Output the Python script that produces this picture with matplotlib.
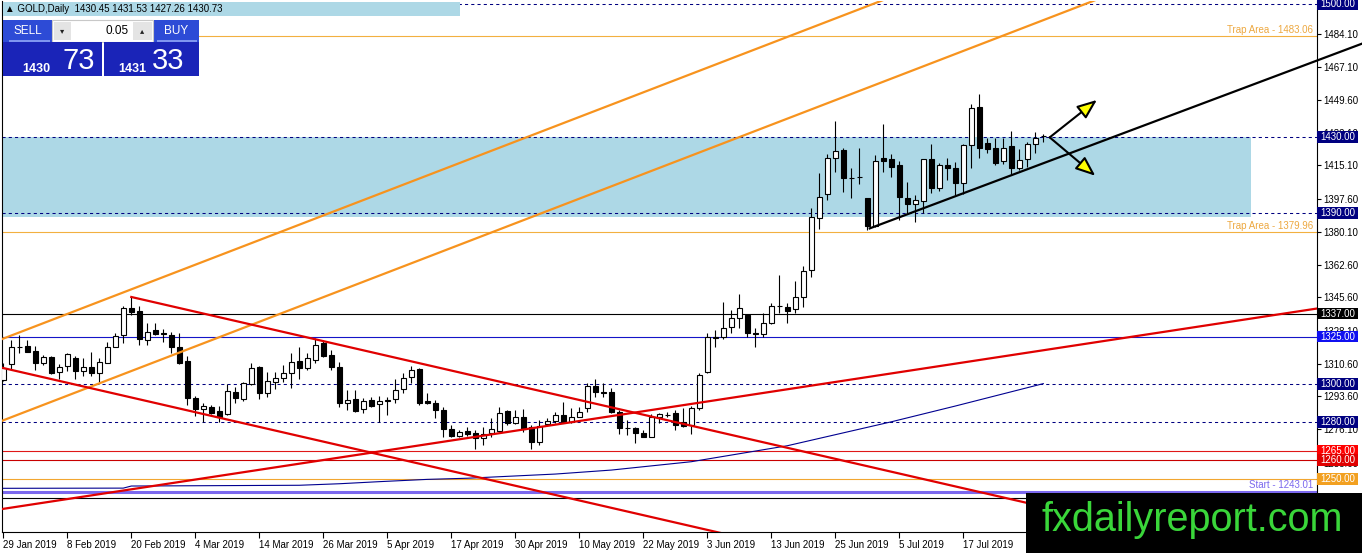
import matplotlib
matplotlib.use("Agg")
import matplotlib.pyplot as plt
import matplotlib.transforms as mtransforms
from matplotlib.patches import Rectangle
import numpy as np

# ---------------- data ----------------
opens = [1302.1, 1310.5, 1319.7, 1320.0, 1317.4, 1310.9, 1314.0, 1306.3, 1309.5, 1313.5,
         1307.0, 1309.1, 1305.6, 1311.2, 1319.7, 1325.8, 1339.8, 1338.4, 1323.2, 1328.4,
         1326.7, 1325.8, 1319.3, 1312.3, 1292.8, 1286.9, 1287.7, 1286.0, 1284.0, 1296.0,
         1292.1, 1299.8, 1309.1, 1295.4, 1301.2, 1303.0, 1305.6, 1312.3, 1308.2, 1312.6,
         1321.4, 1315.3, 1309.1, 1289.8, 1291.9, 1286.7, 1291.6, 1289.3, 1291.2, 1291.9,
         1297.2, 1303.5, 1307.7, 1291.1, 1290.2, 1286.3, 1276.2, 1272.8, 1275.3, 1274.0,
         1271.4, 1274.0, 1275.4, 1286.0, 1279.3, 1282.5, 1277.2, 1269.7, 1279.0, 1280.5,
         1283.7, 1280.2, 1282.8, 1287.2, 1299.0, 1296.0, 1296.0, 1285.4, 1277.0, 1276.7,
         1274.0, 1272.3, 1282.8, 1283.7, 1284.9, 1280.2, 1278.4, 1287.2, 1306.5, 1324.4,
         1324.6, 1329.8, 1334.6, 1336.3, 1327.0, 1326.2, 1332.3, 1341.1, 1340.7, 1339.3,
         1345.6, 1360.0, 1387.2, 1399.8, 1418.8, 1423.2, 1408.6, 1409.1, 1397.7, 1383.4,
         1418.8, 1418.4, 1415.3, 1397.7, 1394.6, 1396.5, 1418.4, 1403.0, 1415.3, 1413.5,
         1405.6, 1425.8, 1445.9, 1426.7, 1424.4, 1417.4, 1425.3, 1413.5, 1418.4, 1426.1,
         1430.45]
highs = [1311.2, 1323.2, 1325.8, 1323.2, 1320.0, 1315.3, 1314.7, 1310.5, 1316.1, 1314.7,
         1313.5, 1317.0, 1313.5, 1322.3, 1326.7, 1341.0, 1346.0, 1341.0, 1332.3, 1332.3,
         1328.8, 1327.5, 1327.0, 1314.7, 1293.7, 1289.8, 1289.0, 1288.4, 1300.0, 1298.6,
         1301.2, 1310.9, 1309.5, 1306.5, 1306.5, 1310.0, 1316.5, 1319.7, 1316.5, 1324.0,
         1323.2, 1317.9, 1311.8, 1296.9, 1296.9, 1292.5, 1293.0, 1293.7, 1293.3, 1302.5,
         1305.6, 1309.5, 1308.2, 1295.1, 1291.6, 1288.1, 1278.4, 1275.8, 1277.2, 1275.8,
         1277.2, 1281.9, 1288.1, 1286.3, 1286.3, 1286.7, 1278.4, 1281.0, 1281.9, 1285.4,
         1290.7, 1287.2, 1288.1, 1300.4, 1302.5, 1300.4, 1297.7, 1286.3, 1281.0, 1277.6,
         1275.8, 1284.2, 1284.9, 1285.4, 1286.3, 1287.2, 1288.4, 1306.0, 1327.0, 1328.4,
         1343.0, 1339.0, 1347.4, 1336.3, 1329.3, 1337.6, 1342.8, 1357.4, 1342.8, 1354.4,
         1362.1, 1392.5, 1410.9, 1420.9, 1438.4, 1424.4, 1413.9, 1424.4, 1398.0, 1420.5,
         1436.7, 1420.9, 1417.4, 1406.5, 1399.5, 1418.4, 1426.1, 1416.2, 1418.8, 1417.0,
         1426.1, 1447.2, 1452.5, 1429.6, 1429.3, 1429.6, 1433.2, 1423.7, 1427.5, 1432.5,
         1431.53]
lows = [1301.8, 1307.7, 1316.5, 1316.8, 1307.4, 1310.0, 1305.3, 1302.5, 1307.0, 1302.5,
        1304.2, 1304.2, 1301.2, 1311.0, 1319.5, 1321.7, 1336.3, 1320.5, 1320.5, 1325.8,
        1322.3, 1316.1, 1310.6, 1289.0, 1283.2, 1280.2, 1284.2, 1280.2, 1283.7, 1289.8,
        1291.2, 1299.5, 1291.9, 1293.0, 1297.2, 1301.2, 1297.7, 1302.5, 1307.4, 1311.2,
        1314.4, 1307.4, 1287.7, 1286.3, 1285.4, 1284.6, 1288.1, 1280.2, 1283.7, 1290.2,
        1295.1, 1300.4, 1289.0, 1289.5, 1281.9, 1272.0, 1272.0, 1272.3, 1272.6, 1265.6,
        1267.9, 1272.3, 1274.9, 1278.4, 1279.0, 1274.9, 1265.6, 1267.9, 1278.4, 1279.7,
        1279.7, 1279.7, 1282.5, 1285.4, 1293.0, 1293.0, 1284.6, 1273.7, 1273.2, 1268.8,
        1272.0, 1272.0, 1279.7, 1282.8, 1275.8, 1277.5, 1273.7, 1286.3, 1305.6, 1319.3,
        1323.5, 1326.7, 1329.3, 1325.0, 1319.3, 1325.0, 1331.6, 1337.2, 1332.3, 1337.6,
        1340.4, 1356.5, 1381.4, 1396.9, 1411.4, 1401.2, 1397.7, 1405.1, 1381.1, 1382.8,
        1411.4, 1409.1, 1386.3, 1389.8, 1385.4, 1389.8, 1400.4, 1401.6, 1407.4, 1399.5,
        1399.8, 1413.9, 1419.1, 1421.4, 1415.3, 1415.6, 1410.4, 1412.6, 1414.4, 1421.4,
        1427.26]
closes = [1308.2, 1319.7, 1319.5, 1317.0, 1310.9, 1314.0, 1306.0, 1308.8, 1315.6, 1307.0,
          1309.1, 1305.6, 1311.8, 1319.7, 1325.4, 1339.8, 1338.1, 1323.5, 1327.5, 1326.1,
          1326.5, 1319.3, 1310.9, 1292.5, 1286.9, 1288.4, 1284.9, 1282.8, 1296.3, 1292.5,
          1300.4, 1308.2, 1295.4, 1301.8, 1303.3, 1305.9, 1311.8, 1308.2, 1313.5, 1320.5,
          1314.7, 1308.8, 1289.8, 1291.6, 1285.8, 1291.2, 1288.4, 1291.1, 1291.3, 1296.9,
          1303.0, 1307.4, 1290.2, 1289.8, 1286.3, 1276.2, 1272.8, 1274.8, 1273.7, 1271.4,
          1273.7, 1276.2, 1284.9, 1279.3, 1282.5, 1276.2, 1269.7, 1277.9, 1280.5, 1283.7,
          1280.2, 1282.5, 1285.4, 1299.0, 1296.0, 1295.4, 1285.4, 1276.7, 1276.8, 1274.0,
          1272.3, 1282.8, 1284.2, 1283.6, 1278.4, 1277.9, 1287.2, 1304.7, 1324.6, 1324.6,
          1329.3, 1334.6, 1339.8, 1327.0, 1326.2, 1332.3, 1341.2, 1341.0, 1338.6, 1345.6,
          1359.5, 1387.7, 1398.6, 1418.8, 1422.6, 1408.3, 1408.4, 1409.0, 1383.4, 1417.4,
          1417.4, 1414.4, 1398.6, 1394.6, 1396.9, 1418.4, 1403.0, 1415.3, 1413.5, 1405.6,
          1425.8, 1445.1, 1424.4, 1423.7, 1416.5, 1424.4, 1413.5, 1417.9, 1426.1, 1429.6,
          1430.73]

date_labels = ["29 Jan 2019", "8 Feb 2019", "20 Feb 2019", "4 Mar 2019", "14 Mar 2019",
               "26 Mar 2019", "5 Apr 2019", "17 Apr 2019", "30 Apr 2019", "10 May 2019",
               "22 May 2019", "3 Jun 2019", "13 Jun 2019", "25 Jun 2019", "5 Jul 2019",
               "17 Jul 2019"]
bars_per_label = 8

price_ticks = [1484.10, 1467.10, 1449.60, 1432.10, 1415.10, 1397.60, 1380.10, 1362.60,
               1345.60, 1328.10, 1310.60, 1293.60, 1276.10, 1258.60]

dashed_levels = [1500.00, 1430.00, 1390.00, 1300.00, 1280.00]
solid_levels = [1337.00, 1325.00, 1265.00, 1260.00, 1250.00, 1240.00]
solid_colors = ["black", "#1515C8", "#E01818", "#C80000", "#F2A630", "black"]

label_levels = [1500.00, 1430.00, 1390.00, 1337.00, 1325.00, 1300.00, 1280.00, 1265.00, 1260.00, 1250.00]
label_colors = ["#000080", "#000080", "#000080", "black", "#1010F0", "#000080", "#000080",
                "#FF0000", "#E00000", "#F2A020"]

trap_levels = [1483.06, 1379.96]
start_level = 1243.01
zone_low, zone_high, zone_end_bar = 1387.7, 1430.2, 156

ma_bars = [0, 15, 16, 37, 42, 47, 53, 58, 61, 69, 76, 86, 98, 111, 119, 130]
ma_values = [1245.1, 1245.2, 1246.3, 1246.7, 1247.5, 1248.6, 1249.8, 1250.4, 1251.0,
             1252.6, 1254.7, 1259.1, 1267.5, 1280.1, 1288.4, 1300.2]

orange_upper = [(0, 1323.9), (100, 1485.9)]
orange_lower = [(0, 1280.9), (100, 1442.9)]
red_desc_upper = [(16, 1345.8), (116, 1249.0)]   # ray starting at bar 16
red_desc_lower = [(0, 1308.4), (100, 1211.6)]
red_asc = [(0, 1234.3), (100, 1298.5)]
black_trend = [(108.3, 1381.9), (158.3, 1460.9)]  # ray starting at bar 108.3
arrow_origin = (130.8, 1429.8)
arrow_tips = [(136.7, 1449.5), (136.5, 1409.6)]

header_text = "\u25B2 GOLD,Daily  1430.45 1431.53 1427.26 1430.73"
lot_size = "0.05"
sell_price = ("1430", "73")
buy_price = ("1431", "33")

# ---------------- layout ----------------
W, H = 1362, 553
FONT = ["Liberation Sans", "DejaVu Sans"]
plt.rcParams["font.family"] = FONT

fig = plt.figure(figsize=(W / 100, H / 100), dpi=100)
fig.patch.set_facecolor("white")
L, R, T, B = 2.0, 1316.7, 1.0, 532.0
ax = fig.add_axes([L / W, (H - B) / H, (R - L) / W, (B - T) / H])
px_per_bar, bar0_px = 8.0, 3.3
px_per_price, ref_price, ref_px = 1.9, 1500.0, 4.0
xmin = (L - bar0_px) / px_per_bar
xmax = (R - bar0_px) / px_per_bar
ymax = ref_price + (ref_px - T) / px_per_price
ymin = ref_price - (B - ref_px) / px_per_price
ax.set_xlim(xmin, xmax)
ax.set_ylim(ymin, ymax)
ax.set_facecolor("white")

n = len(opens)
idx = np.arange(n)
o = np.array(opens); h = np.array(highs); l = np.array(lows); c = np.array(closes)

# zone
ax.add_patch(Rectangle((xmin - 1, zone_low), zone_end_bar - (xmin - 1), zone_high - zone_low,
                       facecolor="#ADD8E6", edgecolor="none", zorder=1))

bt = mtransforms.blended_transform_factory(ax.transAxes, ax.transData)

# horizontal lines
for lv in dashed_levels:
    ax.axhline(lv, color="#000080", lw=0.75, ls=(0, (3, 3)), zorder=2)
for lv, col in zip(solid_levels, solid_colors):
    ax.axhline(lv, color=col, lw=0.8, zorder=2)
for lv in trap_levels:
    ax.axhline(lv, color="#F2B040", lw=0.8, zorder=2)
    ax.text(0.9975, lv + 0.4, f"Trap Area - {lv:.2f}", transform=bt,
            ha="right", va="bottom", fontsize=7, color="#EDA840", zorder=3)
ax.axhline(start_level, color="#7B68EE", lw=2.2, zorder=2)
ax.text(0.9975, start_level + 1.2, f"Start - {start_level:.2f}", transform=bt,
        ha="right", va="bottom", fontsize=7, color="#7B68EE", zorder=3)

# moving average like line
ax.plot(ma_bars, ma_values, color="#000090", lw=0.8, zorder=3)

# candles
bull = c >= o
ax.vlines(idx, l, h, color="black", lw=0.8, zorder=4)
body_bottom = np.minimum(o, c)
body_h = np.maximum(np.abs(c - o), 0.15)
ax.bar(idx, body_h, bottom=body_bottom, width=0.58,
       color=np.where(bull, "white", "black"), edgecolor="black", lw=0.8, zorder=5)

# trend lines
def extend(pts, x_from, x_to):
    (x1, y1), (x2, y2) = pts
    s = (y2 - y1) / (x2 - x1)
    return [x_from, x_to], [y1 + s * (x_from - x1), y1 + s * (x_to - x1)]

far = xmax + 50
for pts, col in [(orange_upper, "#F7931E"), (orange_lower, "#F7931E"),
                 (red_desc_lower, "#E00000"), (red_asc, "#E00000")]:
    xs, ys = extend(pts, xmin - 5, far)
    ax.plot(xs, ys, color=col, lw=1.6, zorder=6, solid_capstyle="butt")
xs, ys = extend(red_desc_upper, red_desc_upper[0][0], far)
ax.plot(xs, ys, color="#E00000", lw=1.6, zorder=6)
fig_right_bar = (W - bar0_px) / px_per_bar
xs, ys = extend(black_trend, black_trend[0][0], fig_right_bar)
ax.plot(xs, ys, color="black", lw=1.6, zorder=7, clip_on=False)

for tip in arrow_tips:
    ax.annotate("", xy=tip, xytext=arrow_origin,
                arrowprops=dict(arrowstyle="-|>,head_length=1.2,head_width=0.48",
                                fc="#FFFF00", ec="black", lw=1.5, shrinkA=0, shrinkB=0,
                                mutation_scale=10), zorder=8)

# axes styling
ax.spines["top"].set_visible(False)
for sp in ["left", "right", "bottom"]:
    ax.spines[sp].set_color("black")
    ax.spines[sp].set_linewidth(0.8)
ax.yaxis.tick_right()
ax.set_yticks(price_ticks)
ax.set_yticklabels([f"{v:.2f}" for v in price_ticks])
ax.tick_params(axis="y", length=3, width=0.8, pad=1.5, labelsize=7, colors="black")
ax.set_xticks(np.arange(len(date_labels)) * bars_per_label)
ax.set_xticklabels(date_labels, ha="left")
ax.tick_params(axis="x", length=4, width=0.8, pad=1.5, labelsize=7, colors="black")

# price label boxes on the axis
box_w = 41.0 / (R - L)
box_h = 11.5 / px_per_price
for lv, col in zip(label_levels, label_colors):
    ax.add_patch(Rectangle((1.0, lv - box_h / 2), box_w, box_h, transform=bt,
                           facecolor=col, edgecolor="none", clip_on=False, zorder=10))
    ax.text(1.0 + 3.5 / (R - L), lv, f"{lv:.2f}", transform=bt, color="white",
            ha="left", va="center", fontsize=7, zorder=11, clip_on=False)

# ---------------- figure-level overlays ----------------
def frect(x0, y0, x1, y1, **kw):
    r = Rectangle((x0 / W, 1 - y1 / H), (x1 - x0) / W, (y1 - y0) / H,
                  transform=fig.transFigure, **kw)
    fig.add_artist(r)
    return r

def ftext(x, y, s, **kw):
    fig.text(x / W, 1 - y / H, s, **kw)

# header bar
frect(3, 2, 460, 16, facecolor="#ADD8E6", edgecolor="none", zorder=20)
ftext(5, 9.5, header_text, fontsize=7, va="center", ha="left", color="black",
      family=FONT, zorder=21)

# one-click trading widget
frect(3, 20, 52, 42, facecolor="#2D4BD6", edgecolor="none", zorder=20)
frect(154, 20, 199, 42, facecolor="#2D4BD6", edgecolor="none", zorder=20)
frect(52, 20, 153, 42, facecolor="white", edgecolor="#C8C8C8", lw=0.8, zorder=20)
frect(54, 22, 71, 40, facecolor="#E4E4E4", edgecolor="none", zorder=21)
frect(133, 22, 152, 40, facecolor="#E4E4E4", edgecolor="none", zorder=21)
ftext(62.5, 31, "\u25BE", fontsize=6, ha="center", va="center", color="#222222", zorder=22,
      family=["DejaVu Sans"])
ftext(142.5, 31, "\u25B4", fontsize=6, ha="center", va="center", color="#222222", zorder=22,
      family=["DejaVu Sans"])
ftext(129, 31, lot_size, fontsize=8.5, ha="right", va="center", color="black", zorder=22)
ftext(27.5, 30.5, "SELL", fontsize=8.5, ha="center", va="center", color="white", zorder=22)
ftext(176.5, 30.5, "BUY", fontsize=8.5, ha="center", va="center", color="white", zorder=22)
frect(9, 40.5, 50, 41.5, facecolor="#7F95F0", edgecolor="none", zorder=21)
frect(157, 40.5, 197, 41.5, facecolor="#7F95F0", edgecolor="none", zorder=21)
frect(3, 42, 102, 76, facecolor="#1A24B8", edgecolor="none", zorder=20)
frect(104, 42, 199, 76, facecolor="#1A24B8", edgecolor="none", zorder=20)
ftext(22.5, 71.5, sell_price[0], fontsize=9, ha="left", va="baseline", color="white",
      zorder=22, weight="bold")
ftext(63, 68.5, sell_price[1], fontsize=21, ha="left", va="baseline", color="white", zorder=22)
ftext(118, 71.5, buy_price[0], fontsize=9, ha="left", va="baseline", color="white",
      zorder=22, weight="bold")
ftext(152, 68.5, buy_price[1], fontsize=21, ha="left", va="baseline", color="white", zorder=22)

# watermark
frect(1026, 493, W, H, facecolor="black", edgecolor="none", zorder=30)
ftext(1041, 531, "fxdailyreport.com", fontsize=28.5, ha="left", va="baseline",
      color="#3AD63A", zorder=31, family=FONT)

fig.savefig("out.png", dpi=100, facecolor="white")
